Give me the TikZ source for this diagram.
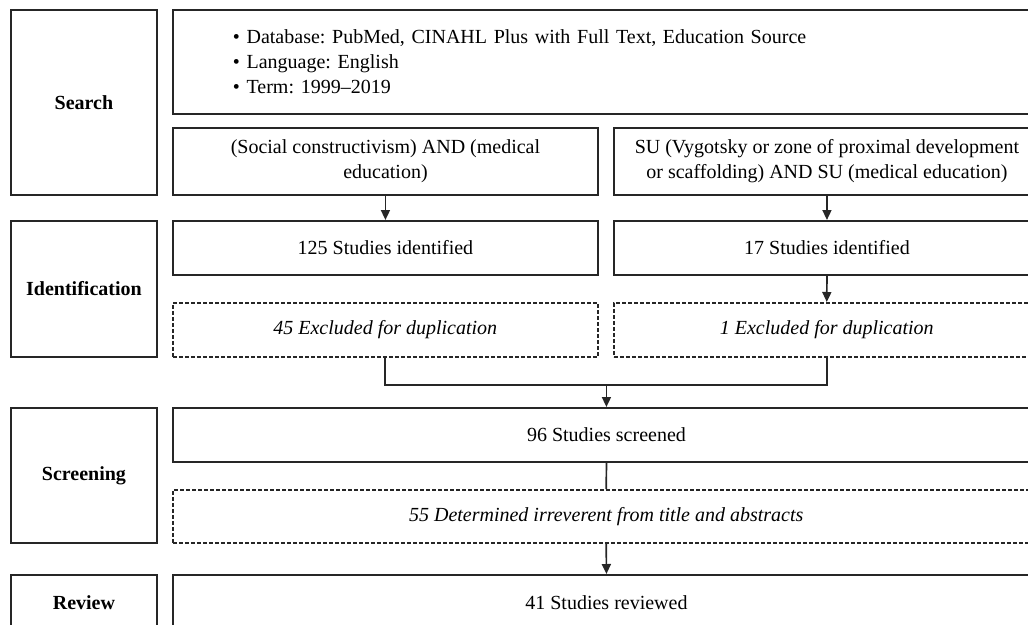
\documentclass[tikz,border=0pt]{standalone}
\usepackage{fontspec}
\setmainfont{Liberation Serif}
\frenchspacing
\usetikzlibrary{arrows.meta}
\begin{document}
\begin{tikzpicture}[x=1pt,y=-1pt,
  box/.style={draw=black!85, line width=1.9pt, inner sep=0pt, align=center, anchor=north west,
    font=\fontsize{20}{25}\selectfont},
  dbox/.style={box, line width=1.5pt, dash pattern=on 4pt off 2pt, font=\fontsize{20}{25}\selectfont\itshape},
  stage/.style={box, font=\fontsize{20}{25}\selectfont\bfseries},
  arr/.style={draw=black!85, line width=1.7pt, -{Triangle[length=10pt,width=9pt]}},
  ln/.style={draw=black!85, line width=1.7pt}]
\useasboundingbox (0,0) rectangle (1028,624);
\clip (0,0) rectangle (1028,624);
% stage boxes
\node[stage, minimum width=146, minimum height=185] (search) at (10,9) {Search};
\node[stage, minimum width=146, minimum height=136] (ident) at (10,220) {Identification};
\node[stage, minimum width=146, minimum height=135] (screen) at (10,407) {Screening};
\node[stage, minimum width=146, minimum height=56] (review) at (10,574) {Review};
% search criteria
\node[box, minimum width=867, minimum height=104, text width=747, align=left] (crit) at (172,9)
  {• Database: PubMed, CINAHL Plus with Full Text, Education Source\\
   • Language: English\\
   • Term: 1999–2019};
\node[box, minimum width=425, minimum height=67] (q1) at (172,127)
  {(Social constructivism) AND (medical\\education)};
\node[box, minimum width=426, minimum height=67] (q2) at (613,127)
  {SU (Vygotsky or zone of proximal development\\or scaffolding) AND SU (medical education)};
% identification
\node[box, minimum width=425, minimum height=54] (id1) at (172,220) {125 Studies identified};
\node[box, minimum width=426, minimum height=54] (id2) at (613,220) {17 Studies identified};
\node[dbox, minimum width=425, minimum height=54] (ex1) at (172,302) {45 Excluded for duplication};
\node[dbox, minimum width=426, minimum height=54] (ex2) at (613,302) {1 Excluded for duplication};
% screening
\node[box, minimum width=867, minimum height=54] (scr) at (172,407) {96 Studies screened};
\node[dbox, minimum width=867, minimum height=53] (irr) at (172,489) {55 Determined irreverent from title and abstracts};
\node[box, minimum width=867, minimum height=56] (rev) at (172,574) {41 Studies reviewed};
% connectors
\draw[arr] (q1.south) -- (id1.north);
\draw[arr] (q2.south) -- (id2.north);
\draw[arr] (id2.south) -- (ex2.north);
\coordinate (merge) at (scr.north |- 0,385);
\draw[ln] (ex1.south) |- (merge);
\draw[ln] (ex2.south) |- (merge);
\draw[arr] (merge) -- (scr.north);
\draw[ln] (scr.south) -- (irr.north);
\draw[arr] (irr.south) -- (rev.north);
\end{tikzpicture}
\end{document}
